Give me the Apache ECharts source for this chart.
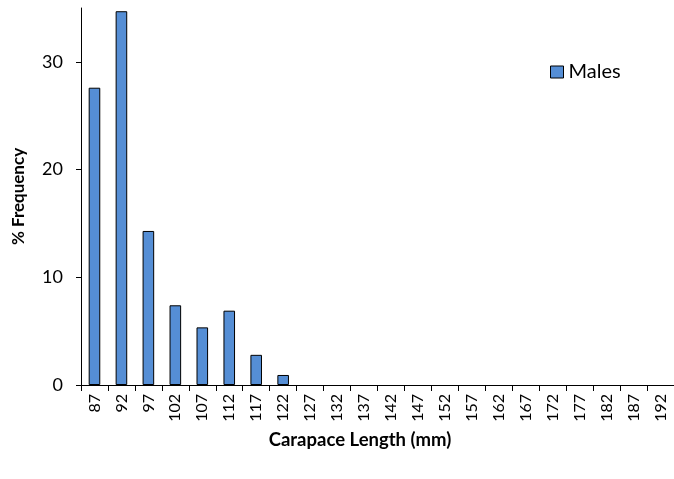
<!DOCTYPE html>
<html><head><meta charset="utf-8">
<script src="https://cdn.jsdelivr.net/npm/echarts@6/dist/echarts.min.js"></script>
<style>html,body{margin:0;padding:0;background:#fff}#c{width:674px;height:479px}</style>
</head><body><div id="c"></div>
<script>
const categories = ['87','92','97','102','107','112','117','122','127','132','137','142','147','152','157','162','167','172','177','182','187','192'];
const males = [27.6,34.7,14.3,7.4,5.35,6.9,2.8,0.93,0,0,0,0,0,0,0,0,0,0,0,0,0,0];
const yTicks = [0,10,20,30];
const FONT = 'Lato';
const barData = males.map(v => v === 0 ? {value: v, itemStyle: {borderWidth: 0}} : v);
const chart = echarts.init(document.getElementById('c'));
chart.setOption({
  animation:false,
  textStyle:{fontFamily:FONT},
  title:{text:'Carapace Length (mm)', left:355, top:426, textAlign:'center',
    textStyle:{fontFamily:FONT,fontSize:18.5,fontWeight:'bold',color:'#000'}},
  legend:{data:['Males'], left:545, top:57, itemWidth:13, itemHeight:12, itemGap:4,
    icon:'rect',
    itemStyle:{borderColor:'#000',borderWidth:1},
    textStyle:{fontFamily:FONT,fontSize:20,color:'#000'}},
  grid:{left:81,right:0,top:8,bottom:94,outerBoundsMode:'none',containLabel:false},
  xAxis:{type:'category', data:categories,
    axisLine:{lineStyle:{color:'#000',width:1}},
    axisTick:{show:true,alignWithLabel:false,length:6,lineStyle:{color:'#000'}},
    axisLabel:{rotate:90,fontSize:16,color:'#000',margin:9,interval:0,fontFamily:FONT}},
  yAxis:{type:'value', min:0, max:35, interval:10,
    name:'% Frequency', nameLocation:'middle', nameGap:54,
    nameTextStyle:{fontFamily:FONT,fontSize:17,fontWeight:'bold',color:'#000'},
    splitLine:{show:false},
    axisLine:{show:true,lineStyle:{color:'#000',width:1}},
    axisTick:{show:true,length:5,lineStyle:{color:'#000'},customValues:yTicks},
    axisLabel:{fontSize:18,color:'#000',margin:18,customValues:yTicks,fontFamily:FONT}},
  series:[{name:'Males', type:'bar', data:barData, barWidth:'43%',
    itemStyle:{color:'#558ED5',borderColor:'#000',borderWidth:1}}]
});
</script></body></html>
